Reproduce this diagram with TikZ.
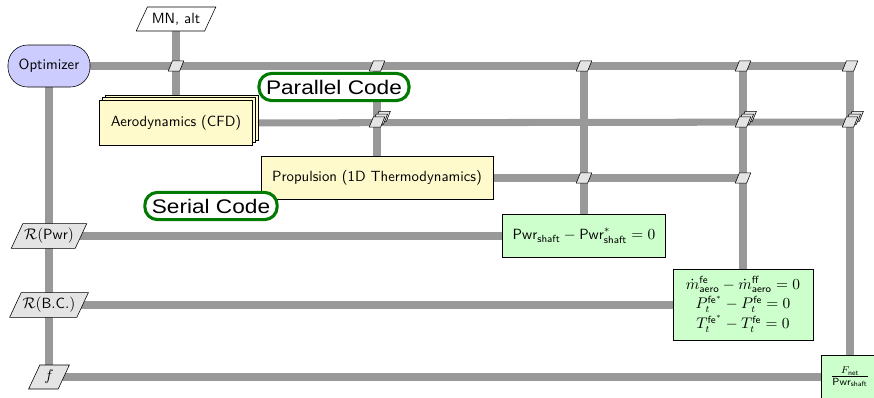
\documentclass[tikz,border=0pt]{standalone}
\usepackage{fontspec}
\newfontfamily\labelfont[FakeStretch=1.15]{Liberation Sans}
\usetikzlibrary{shapes.geometric,shadows,backgrounds}
\definecolor{optfill}{HTML}{CCCCFF}
\definecolor{discfill}{HTML}{FFFACC}
\definecolor{funcfill}{HTML}{CCFFCC}
\definecolor{datafill}{HTML}{E4E4E4}
\definecolor{connc}{HTML}{999999}
\definecolor{codec}{HTML}{007A00}
\tikzset{
  every node/.style={font=\sffamily\fontsize{10.5}{12.6}\selectfont},
  conn/.style={draw=connc, line width=5pt},
  optbox/.style={draw, fill=optfill, rounded corners=14pt, minimum width=2.05cm, minimum height=1.05cm},
  discbox/.style={draw, fill=discfill},
  funcbox/.style={draw, fill=funcfill},
  datapar/.style={trapezium, trapezium left angle=65, trapezium right angle=115, draw, fill=datafill, inner xsep=1pt, minimum height=0.6cm},
  smallpar/.style={trapezium, trapezium left angle=68, trapezium right angle=112, draw, fill=datafill, inner xsep=2.6pt, inner ysep=3.6pt, minimum width=0pt, minimum height=0pt},
  multi/.style={general shadow={shadow xshift=4pt, shadow yshift=4pt, draw=black, fill=#1},
                general shadow={shadow xshift=2pt, shadow yshift=2pt, draw=black, fill=#1}},
  codelabel/.style={draw=codec, line width=2.2pt, rounded corners=9pt, fill=white, font=\labelfont\fontsize{14}{17}\selectfont, inner xsep=5pt, inner ysep=0pt, minimum height=0.68cm}
}
\begin{document}
\begin{tikzpicture}[x=0.025cm, y=-0.025cm]
\useasboundingbox (0,0) rectangle (874,397);
% main nodes
\node[optbox] (opt) at (49,66) {Optimizer};
\node[datapar, fill=white] (mn) at (176,19) {MN, alt};
\node[discbox, multi=discfill, minimum width=3.825cm, minimum height=1.125cm] (aero) at (176,123) {Aerodynamics (CFD)};
\node[discbox, minimum width=5.8cm, minimum height=1.075cm] (prop) at (377,178) {Propulsion (1D Thermodynamics)};
\node[funcbox, minimum width=4.075cm, minimum height=1.075cm] (pwr) at (584,236) {$\mathsf{Pwr}_{\mathsf{shaft}} - \mathsf{Pwr}^{*}_{\mathsf{shaft}} = 0$};
\node[funcbox, minimum width=3.5cm, minimum height=1.775cm, inner sep=1pt] (res) at (743,305) {%
  $\renewcommand{\arraystretch}{1.12}\begin{array}{c}
  \dot{m}^{\mathsf{fe}}_{\mathsf{aero}} - \dot{m}^{\mathsf{ff}}_{\mathsf{aero}} = 0\\
  P_t^{\mathsf{fe}^*} - P_t^{\mathsf{fe}} = 0\\
  T_t^{\mathsf{fe}^*} - T_t^{\mathsf{fe}} = 0
  \end{array}$};
\node[funcbox, minimum width=1.45cm, minimum height=1.1cm] (fnet) at (850,377) {$\frac{F_{\mathsf{net}}}{\mathsf{Pwr}_{\mathsf{shaft}}}$};
% left data nodes
\node[datapar] (rpwr) at (49,236) {$\mathcal{R}(\mathsf{Pwr})$};
\node[datapar] (rbc) at (49,305) {$\mathcal{R}(\mathsf{B.C.})$};
\node[datapar, inner xsep=3pt] (fobj) at (49,377) {$f$};
% small data parallelograms
\node[smallpar] (d12) at (176,66) {};
\node[smallpar] (d13) at (377,66) {};
\node[smallpar] (d14) at (584,66) {};
\node[smallpar] (d15) at (743,66) {};
\node[smallpar] (d16) at (850,66) {};
\node[smallpar, multi=datafill] (d23) at (377,122) {};
\node[smallpar, multi=datafill] (d25) at (743,122) {};
\node[smallpar, multi=datafill] (d26) at (850,122) {};
\node[smallpar] (d34) at (584,178) {};
\node[smallpar] (d35) at (743,178) {};
% code labels
\node[codelabel] (par) at (334,87) {Parallel Code};
\node[codelabel] (ser) at (211,206) {Serial Code};
% connectors
\begin{pgfonlayer}{background}
\draw[conn] (opt.center) -- (d16.center);
\draw[conn] (opt.center) -- (fobj.center);
\draw[conn] (mn.center) -- (aero.center);
\draw[conn] (aero.center) -- (d26.center);
\draw[conn] (d13.center) -- (prop.center);
\draw[conn] (prop.center) -- (d35.center);
\draw[conn] (d14.center) -- (pwr.center);
\draw[conn] (d15.center) -- (res.center);
\draw[conn] (d16.center) -- (fnet.center);
\draw[conn] (rpwr.center) -- (pwr.center);
\draw[conn] (rbc.center) -- (res.center);
\draw[conn] (fobj.center) -- (fnet.center);
\end{pgfonlayer}
\end{tikzpicture}
\end{document}
